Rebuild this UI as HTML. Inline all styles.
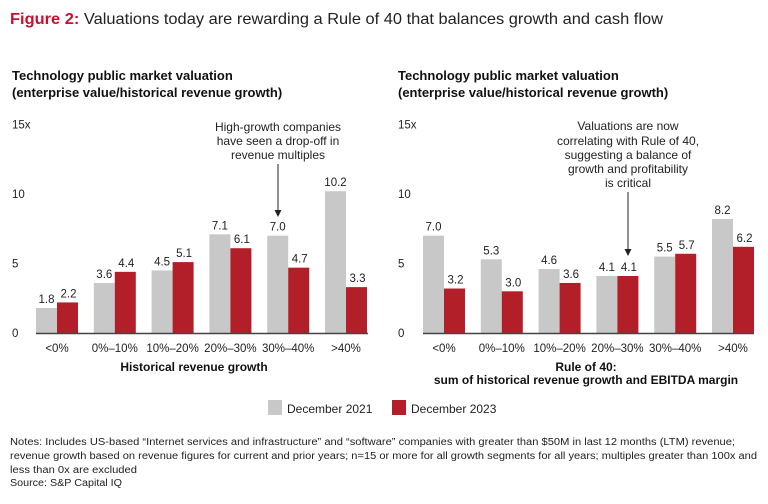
<!DOCTYPE html>
<html><head><meta charset="utf-8"><style>
body{margin:0;background:#fff;width:768px;height:499px;overflow:hidden;font-family:"Liberation Sans",sans-serif;}
svg text{font-family:"Liberation Sans",sans-serif;}
</style></head><body>
<svg width="768" height="499" viewBox="0 0 768 499">
<text x="10" y="24" font-size="16" fill="#222" textLength="653" lengthAdjust="spacingAndGlyphs"><tspan font-weight="bold" fill="#c8102e">Figure 2:</tspan> Valuations today are rewarding a Rule of 40 that balances growth and cash flow</text>
<g font-size="13" font-weight="bold" fill="#111">
<text x="12" y="80">Technology public market valuation</text>
<text x="12" y="97">(enterprise value/historical revenue growth)</text>
<text x="398" y="80">Technology public market valuation</text>
<text x="398" y="97">(enterprise value/historical revenue growth)</text>
</g>
<g id="left"></g>
<g id="right"></g>
<text x="194" y="371" text-anchor="middle" font-size="12" font-weight="bold" fill="#111">Historical revenue growth</text>
<text x="586" y="371" text-anchor="middle" font-size="12" font-weight="bold" fill="#111">Rule of 40:</text>
<text x="586" y="384" text-anchor="middle" font-size="12" font-weight="bold" fill="#111">sum of historical revenue growth and EBITDA margin</text>
<g font-size="12" fill="#222" text-anchor="middle">
<text x="278" y="131">High-growth companies</text><text x="278" y="145">have seen a drop-off in</text><text x="278" y="159">revenue multiples</text>
</g>
<line x1="278" y1="164" x2="278" y2="212" stroke="#222" stroke-width="1"/>
<polygon points="274.5,210 281.5,210 278,217" fill="#222"/>
<g font-size="12" fill="#222" text-anchor="middle">
<text x="628" y="130">Valuations are now</text><text x="628" y="145">correlating with Rule of 40,</text><text x="628" y="159">suggesting a balance of</text><text x="628" y="173">growth and profitability</text><text x="628" y="187">is critical</text>
</g>
<line x1="628" y1="192" x2="628" y2="251" stroke="#222" stroke-width="1"/>
<polygon points="624.5,249 631.5,249 628,256" fill="#222"/>
<g font-size="12" fill="#222">
<rect x="268" y="400" width="14" height="15" fill="#c8c8c8"/>
<text x="287" y="413">December 2021</text>
<rect x="392" y="400" width="14" height="15" fill="#b31f29"/>
<text x="411" y="413">December 2023</text>
</g>
<g font-size="10" fill="#222">
<text x="10" y="445" textLength="725" lengthAdjust="spacingAndGlyphs">Notes: Includes US-based “Internet services and infrastructure” and “software” companies with greater than $50M in last 12 months (LTM) revenue;</text>
<text x="10" y="459" textLength="747" lengthAdjust="spacingAndGlyphs">revenue growth based on revenue figures for current and prior years; n=15 or more for all growth segments for all years; multiples greater than 100x and</text>
<text x="10" y="473" textLength="127" lengthAdjust="spacingAndGlyphs">less than 0x are excluded</text>
<text x="10" y="486" textLength="112" lengthAdjust="spacingAndGlyphs">Source: S&amp;P Capital IQ</text>
</g>
</svg>
<script>
const categories = ["<0%","0%–10%","10%–20%","20%–30%","30%–40%",">40%"];
const leftDec2021 = [1.8,3.6,4.5,7.1,7.0,10.2];
const leftDec2023 = [2.2,4.4,5.1,6.1,4.7,3.3];
const rightDec2021 = [7.0,5.3,4.6,4.1,5.5,8.2];
const rightDec2023 = [3.2,3.0,3.6,4.1,5.7,6.2];
const yTicks = [0,5,10,15];
const yTickLabels = ["0","5","10","15x"];
const NS="http://www.w3.org/2000/svg";
const y0=333, pxPerUnit=13.9;
function yScale(v){return y0 - v*pxPerUnit;}
function mk(tag,attrs,parent){const e=document.createElementNS(NS,tag);for(const k in attrs)e.setAttribute(k,attrs[k]);parent.appendChild(e);return e;}
function draw(gid,x0,xEnd,tickX,s1,s2,side){
  const g=document.getElementById(gid);
  const step=57.8, bw=21;
  function xScale(i){return x0+i*step;}
  yTicks.forEach((t,i)=>{
    const tx=mk('text',{x:tickX,y:yScale(t)+4,'font-size':11.5,fill:'#222'},g);
    
    
    tx.textContent=yTickLabels[i];
  });
  categories.forEach((c,i)=>{
    const x=xScale(i);
    const r1=mk('rect',{x:x,y:yScale(s1[i]),width:bw,height:s1[i]*pxPerUnit,fill:'#c8c8c8'},g);
    
    
    const r2=mk('rect',{x:x+bw,y:yScale(s2[i]),width:bw,height:s2[i]*pxPerUnit,fill:'#b31f29'},g);
    
    
    const l1=mk('text',{x:x+bw/2,y:yScale(s1[i])-5,'text-anchor':'middle','font-size':11.5,fill:'#222'},g);
    
    
    l1.textContent=s1[i].toFixed(1);
    const l2=mk('text',{x:x+bw*1.5+1,y:yScale(s2[i])-5,'text-anchor':'middle','font-size':11.5,fill:'#222'},g);
    
    
    l2.textContent=s2[i].toFixed(1);
    const cl=mk('text',{x:x+bw,y:352,'text-anchor':'middle','font-size':11.5,fill:'#222'},g);
    
    
    cl.textContent=c;
  });
  const ax=mk('line',{x1:x0,x2:xEnd,y1:y0+0.5,y2:y0+0.5,stroke:'#444','stroke-width':1.5},g);
  
  
}
draw('left',36,368,12,leftDec2021,leftDec2023,'left');
draw('right',423,754,398,rightDec2021,rightDec2023,'right');
</script>
</body></html>
